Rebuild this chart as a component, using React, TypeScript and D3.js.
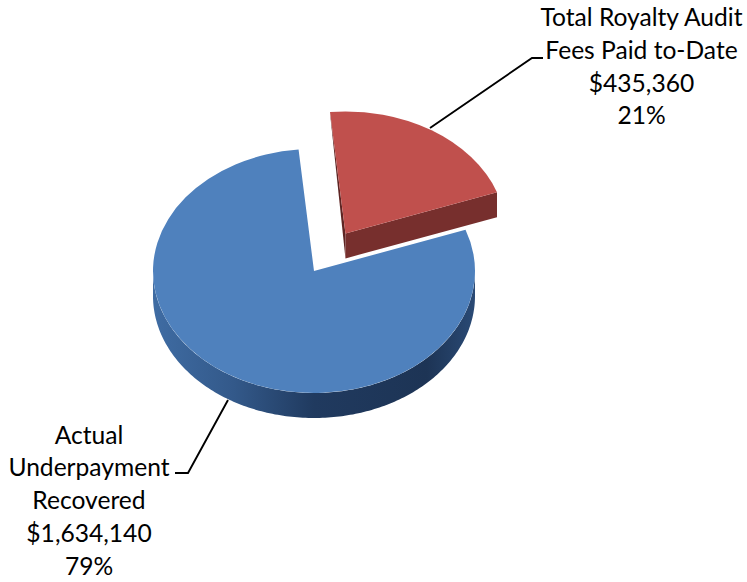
import React, {useEffect, useRef} from 'react';
import * as d3 from "d3"

const sliceNames = ["Total Royalty Audit Fees", "Actual Underpayment Recovered"]
const sliceValues = [435360, 1634140]
const sliceColors = ["#c0504d", "#4f81bd"]
const labelLines = [
  ["Total Royalty Audit", "Fees Paid to-Date", "$435,360", "21%"],
  ["Actual", "Underpayment", "Recovered", "$1,634,140", "79%"]
]

const width = 747
const height = 582
const cx = 314
const cy = 271
const rx = 161
const ry = 122
const depth = 25
const firstAngle = -5.5 * Math.PI / 180
const explode = 0.365

const App = () => {
  const ref = useRef<SVGSVGElement>(null)

  useEffect(() => {
    const svg = d3.select(ref.current)
    svg.selectAll("*").remove()

    const pie = d3.pie<number>().sort(null).startAngle(firstAngle).endAngle(firstAngle + 2 * Math.PI)
    const slices = pie(sliceValues)
    const arc = d3.arc<any>().innerRadius(0).outerRadius(rx)

    // gradient for the round side of the big slice
    const grad = svg.append("defs").append("linearGradient")
      .attr("id", "blueSide")
      .attr("gradientUnits", "userSpaceOnUse")
      .attr("x1", cx - rx).attr("x2", cx + rx).attr("y1", 0).attr("y2", 0)
    grad.append("stop").attr("offset", "0").attr("stop-color", "#3f6ca3")
    grad.append("stop").attr("offset", "0.25").attr("stop-color", "#33598a")
    grad.append("stop").attr("offset", "0.5").attr("stop-color", "#203a5f")
    grad.append("stop").attr("offset", "0.85").attr("stop-color", "#1d3455")
    grad.append("stop").attr("offset", "1").attr("stop-color", "#2a4a75")

    const px = (a: number, c: number) => c + rx * Math.sin(a)
    const py = (a: number, c: number) => c - ry * Math.cos(a)

    // blue slice, round side first then the top
    const blue = slices[1]
    const wallFrom = Math.max(blue.startAngle, Math.PI / 2)
    const wallTo = Math.min(blue.endAngle, 3 * Math.PI / 2)
    const steps = d3.range(wallFrom, wallTo, Math.PI / 180).concat([wallTo])
    const wall = d3.area<number>()
      .x(a => px(a, cx))
      .y0(a => py(a, cy))
      .y1(a => py(a, cy) + depth)
    svg.append("path").attr("d", wall(steps)).attr("fill", "url(#blueSide)")
    svg.append("path")
      .attr("d", arc(blue))
      .attr("transform", `translate(${cx},${cy}) scale(1,${ry / rx})`)
      .attr("fill", sliceColors[1])

    // red slice pulled out along its middle angle
    const red = slices[0]
    const mid = (red.startAngle + red.endAngle) / 2
    const rcx = cx + explode * rx * Math.sin(mid)
    const rcy = cy - explode * ry * Math.cos(mid)
    const line = d3.line()
    const s: [number, number] = [px(red.startAngle, rcx), py(red.startAngle, rcy)]
    const e: [number, number] = [px(red.endAngle, rcx), py(red.endAngle, rcy)]
    svg.append("path")
      .attr("d", line([s, [rcx, rcy], [rcx, rcy + depth], [s[0] + 0.5, s[1] + 6]]) + "Z")
      .attr("fill", "#5e2523")
    svg.append("path")
      .attr("d", line([[rcx, rcy], e, [e[0], e[1] + depth], [rcx, rcy + depth]]) + "Z")
      .attr("fill", "#772f2d")
    svg.append("path")
      .attr("d", arc(red))
      .attr("transform", `translate(${rcx},${rcy}) scale(1,${ry / rx})`)
      .attr("fill", sliceColors[0])

    // leader lines
    const leaders: [number, number][][] = [
      [[430, 128], [532, 58], [543, 58]],
      [[228, 400], [188, 473], [175, 473]]
    ]
    leaders.forEach(l => {
      svg.append("path").attr("d", line(l)).attr("fill", "none").attr("stroke", "#000").attr("stroke-width", 1.9)
    })

    // labels
    const labelPos = [{x: 641.5, y: 26}, {x: 89, y: 443.5}]
    labelLines.forEach((lines, i) => {
      svg.append("g")
        .attr("font-family", "Lato")
        .attr("font-size", 24.6)
        .attr("fill", "#000")
        .attr("text-anchor", "middle")
        .selectAll("text")
        .data(lines)
        .join("text")
        .attr("x", labelPos[i].x)
        .attr("y", (d, j) => labelPos[i].y + j * 32.8)
        .text(d => d)
    })
  }, [])

  return (
    <svg ref={ref} width={width} height={height}
      style={{position: "absolute", left: 0, top: 0, background: "#fff"}}
      aria-label={sliceNames.join(", ")} />
  )
}
export default App;
